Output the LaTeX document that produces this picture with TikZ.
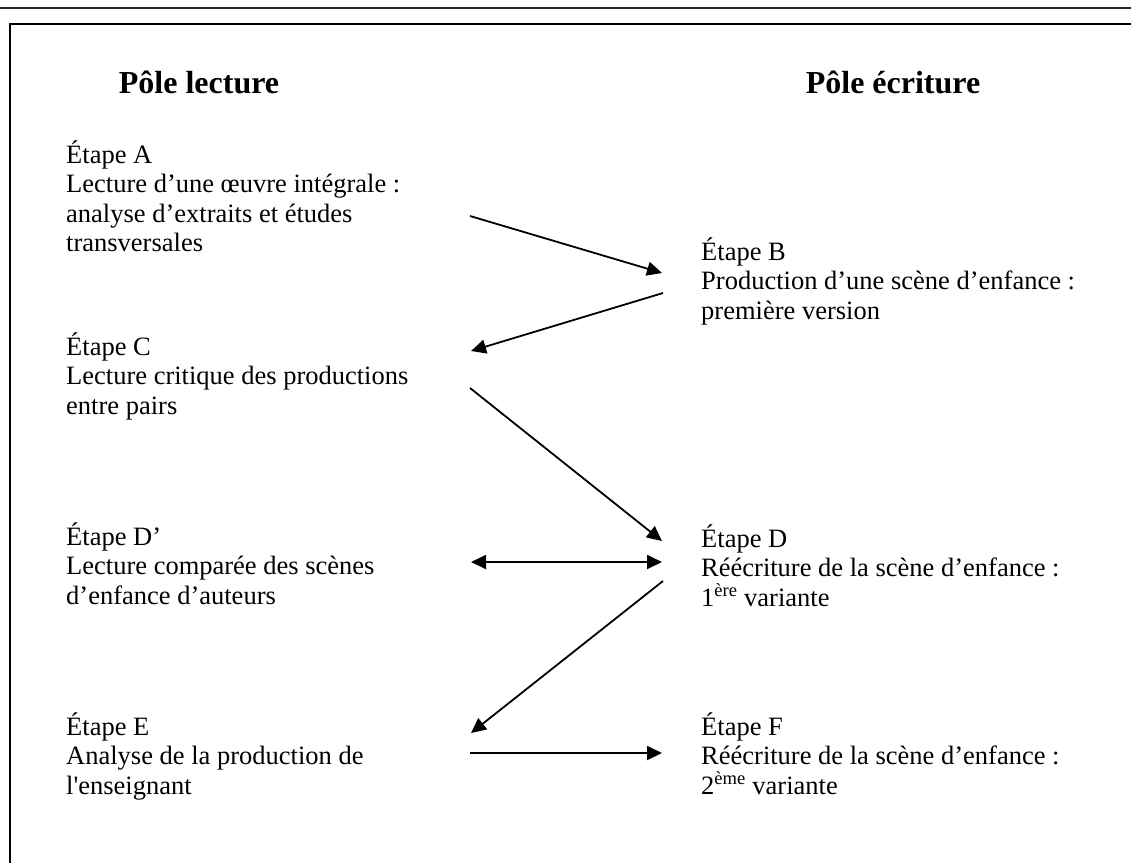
\documentclass[tikz,border=0pt]{standalone}
\usepackage{fontspec}
\setmainfont{Liberation Serif}
\usetikzlibrary{arrows.meta}
\begin{document}
\begin{tikzpicture}[x=1pt,y=-1pt,>={Triangle[length=15pt,width=14pt]},
  etape/.style={anchor=base west,align=left,inner sep=0pt,font=\fontsize{26.5}{29.5}\selectfont},
  pole/.style={anchor=base,inner sep=0pt,font=\fontsize{32}{38}\selectfont\bfseries},
  fleche/.style={line width=1.8pt}]
  \useasboundingbox (0,0) rectangle (1131,863);
  % draw top rule and frame
  \draw[line width=2pt,black!85] (0,8.3) -- (1131,8.3);
  \draw[line width=2pt] (9.5,863) -- (9.5,23.7) -- (1131,23.7);
  % draw the two headings
  \node at(199,93)[pole](lecture){Pôle lecture};
  \node at(893,93)[pole](ecriture){Pôle écriture};
  % draw reading steps (placed by the baseline of their last line)
  \node at(66,251.5)[etape](etapeA){Étape A\\Lecture d’une œuvre intégrale :\\analyse d’extraits et études\\transversales};
  \node at(66,414)[etape](etapeC){Étape C\\Lecture critique des productions\\entre pairs};
  \node at(66,604)[etape](etapeDp){Étape D’\\Lecture comparée des scènes\\d’enfance d’auteurs};
  \node at(66,794)[etape](etapeE){Étape E\\Analyse de la production de\\l\textquotesingle enseignant};
  % draw writing steps
  \node at(701,319)[etape](etapeB){Étape B\\Production d’une scène d’enfance :\\première version};
  \node at(701,606)[etape](etapeD){Étape D\\Réécriture de la scène d’enfance :\\1\textsuperscript{ère} variante};
  \node at(701,794)[etape](etapeF){Étape F\\Réécriture de la scène d’enfance :\\2\textsuperscript{ème} variante};
  % arrow ends
  \coordinate (aOut) at (470,216); \coordinate (bIn) at (662,273);
  \coordinate (bOut) at (663,293); \coordinate (cIn) at (471,351);
  \coordinate (cOut) at (470,388); \coordinate (dIn) at (662,541);
  \coordinate (dpEnd) at (471,562); \coordinate (dEnd) at (662,562);
  \coordinate (dOut) at (663,581); \coordinate (eIn) at (471,733);
  \coordinate (eOut) at (470,753); \coordinate (fIn) at (662,753);
  % draw arrows between the steps
  \draw[fleche,->] (aOut) -- (bIn);
  \draw[fleche,->] (bOut) -- (cIn);
  \draw[fleche,->] (cOut) -- (dIn);
  \draw[fleche,<->] (dpEnd) -- (dEnd);
  \draw[fleche,->] (dOut) -- (eIn);
  \draw[fleche,->] (eOut) -- (fIn);
\end{tikzpicture}
\end{document}
